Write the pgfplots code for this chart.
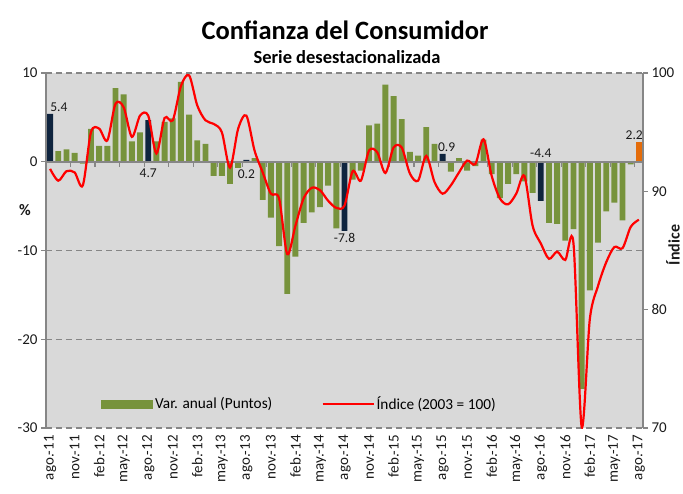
\documentclass[border=0pt]{standalone}
\usepackage{fontspec}
\setmainfont{Carlito}
\usepackage{pgfplots}
\pgfplotsset{compat=1.18}
\definecolor{bargreen}{HTML}{77933C}
\definecolor{bardark}{HTML}{0F243E}
\definecolor{barorange}{HTML}{E46C0A}
\definecolor{bggray}{HTML}{D9D9D9}
\definecolor{axgray}{HTML}{868686}
\definecolor{txt}{HTML}{1A1A1A}
\newcommand{\tf}{\fontsize{15}{17}\selectfont}
\newcommand{\lf}{\fontsize{15.3}{17}\selectfont}
\newcommand{\df}{\fontsize{13.5}{15}\selectfont}
\begin{document}
\begin{tikzpicture}
\useasboundingbox (-46pt,-65pt) rectangle (637pt,428pt);
\begin{axis}[
 at={(0pt,0pt)}, anchor=south west,
 scale only axis, width=597pt, height=355pt,
 xmin=-0.5, xmax=72.5, ymin=-30, ymax=10,
 axis background/.style={fill=bggray},
 separate axis lines,
 x axis line style={draw=none},
 y axis line style={axgray, line width=1.5pt},
 ytick={-30,-20,-10,0,10},
 ytick pos=left,
 ymajorgrids,
 grid style={axgray, line width=1.3pt, dash pattern=on 6pt off 4pt},
 tick align=outside,
 ytick style={axgray, line width=1.2pt},
 major tick length=5pt,
 xtick={0,3,...,72},
 xtick pos=bottom,
 xtick style={draw=none},
 xticklabels={ago.-11,nov.-11,feb.-12,may.-12,ago.-12,nov.-12,feb.-13,may.-13,ago.-13,nov.-13,feb.-14,may.-14,ago.-14,nov.-14,feb.-15,may.-15,ago.-15,nov.-15,feb.-16,may.-16,ago.-16,nov.-16,feb.-17,may.-17,ago.-17},
 xticklabel style={rotate=90, anchor=east, font=\tf, text=txt, inner sep=2pt},
 yticklabel style={font=\tf, text=txt},
 /pgf/number format/assume math mode=true,
 legend style={at={(0.087,0.0676)}, anchor=west, draw=none, fill=none, font=\lf,
   /tikz/every even column/.append style={column sep=47pt}},
 legend columns=2,
 legend cell align=left,
]
\addplot[ybar, bar width=0.72, bar shift=0pt, fill=bargreen, draw=none,
  legend image code/.code={\fill[bargreen] (0pt,-4.5pt) rectangle (52pt,4.5pt);}]
 coordinates {
 (1,1.2) (2,1.4) (3,1.0) (4,-0.2) (5,3.7) (6,1.8) (7,1.8) (8,8.3) (9,7.6) (10,2.3) (11,3.3)
 (13,2.3) (14,4.5) (15,4.9) (16,9.0) (17,5.3) (18,2.4) (19,2.0) (20,-1.6) (21,-1.6) (22,-2.5) (23,-0.7)
 (25,0.4) (26,-4.3) (27,-6.3) (28,-9.5) (29,-14.9) (30,-10.7) (31,-6.9) (32,-5.7) (33,-5.1) (34,-2.7) (35,-7.5)
 (37,-2.0) (38,-1.0) (39,4.1) (40,4.3) (41,8.7) (42,7.4) (43,4.8) (44,1.1) (45,0.7) (46,3.9) (47,2.0)
 (49,-1.1) (50,0.4) (51,-1.0) (52,-0.5) (53,2.5) (54,-1.4) (55,-4.1) (56,-2.5) (57,-1.4) (58,-2.2) (59,-3.5)
 (61,-6.9) (62,-7.0) (63,-8.9) (64,-7.6) (65,-25.6) (66,-14.5) (67,-9.1) (68,-5.6) (69,-4.6) (70,-6.6) (71,-0.3)
 };
\addlegendentry{Var. anual (Puntos)}
\addplot[ybar, bar width=0.72, bar shift=0pt, fill=bardark, draw=none, forget plot]
 coordinates {(0,5.4) (12,4.7) (24,0.2) (36,-7.8) (48,0.9) (60,-4.4)};
\addplot[ybar, bar width=0.72, bar shift=0pt, fill=barorange, draw=none, forget plot]
 coordinates {(72,2.2)};
\addlegendimage{legend image code/.code={\draw[red, line width=2.2pt] (0pt,0pt) -- (51pt,0pt);}}
\addlegendentry{Índice (2003 = 100)}
\draw[axgray, line width=1.5pt] (axis cs:-0.5,0) -- (axis cs:72.5,0);
\pgfplotsinvokeforeach{2.5,5.5,...,71.5}{\draw[axgray, line width=1.2pt] (axis cs:#1,0) -- ++(0pt,-5pt);}
\node[font=\df, text=txt, anchor=south west, inner xsep=0pt, inner ysep=2pt] at (axis cs:0,5.4) {5.4};
\node[font=\df, text=txt, anchor=north, inner sep=2pt] at (axis cs:12,-0.6) {4.7};
\node[font=\df, text=txt, anchor=north, inner sep=2pt] at (axis cs:24,-0.6) {0.2};
\node[font=\df, text=txt, anchor=north, inner sep=2pt] at (axis cs:36,-7.8) {-7.8};
\node[font=\df, text=txt, anchor=south, inner sep=2pt, xshift=4pt] at (axis cs:48,0.9) {0.9};
\node[font=\df, text=txt, anchor=south, inner sep=2pt] at (axis cs:60,0.2) {-4.4};
\node[font=\df, text=txt, anchor=south east, inner xsep=0pt, inner ysep=2pt] at (axis cs:72.5,2.2) {2.2};
\end{axis}
\begin{axis}[
 at={(0pt,0pt)}, anchor=south west,
 scale only axis, width=597pt, height=355pt,
 xmin=-0.5, xmax=72.5, ymin=70, ymax=100,
 axis x line=none, axis y line*=right,
 axis line style={-},
 y axis line style={axgray, line width=1.5pt},
 ytick={70,80,90,100},
 tick align=outside,
 ytick style={axgray, line width=1.2pt},
 major tick length=5pt,
 yticklabel style={font=\tf, text=txt},
 /pgf/number format/assume math mode=true,
]
\addplot[red, line width=2.2pt, smooth, tension=0.5] coordinates {
 (0,91.9) (1,90.9) (2,91.7) (3,91.6) (4,90.5) (5,95.0) (6,95.3) (7,94.3) (8,97.4) (9,97.1) (10,94.6) (11,96.4)
 (12,96.4) (13,93.2) (14,96.2) (15,96.0) (16,98.9) (17,99.8) (18,97.25) (19,96.0) (20,95.7) (21,95.0) (22,92.0) (23,95.3)
 (24,96.4) (25,93.45) (26,91.6) (27,89.8) (28,89.4) (29,84.7) (30,87.1) (31,89.4) (32,90.3) (33,90.1) (34,89.2) (35,88.6)
 (36,88.8) (37,91.7) (38,90.9) (39,93.45) (40,93.3) (41,91.55) (42,93.7) (43,93.7) (44,91.5) (45,90.9) (46,93.0) (47,90.8)
 (48,89.8) (49,90.5) (50,91.6) (51,92.6) (52,92.3) (53,94.4) (54,91.3) (55,89.4) (56,88.9) (57,89.8) (58,91.3) (59,87.1)
 (60,85.6) (61,84.3) (62,84.9) (63,84.2) (64,85.6) (65,70.1) (66,79.2) (67,82.0) (68,84.0) (69,85.3) (70,85.2) (71,87.0)
 (72,87.6)
};
\end{axis}
\node[font=\bfseries\fontsize{26.5}{30}\selectfont, text=black] at (299pt,398pt) {Confianza del Consumidor};
\node[font=\bfseries\fontsize{18.5}{21}\selectfont, text=black] at (301pt,371pt) {Serie desestacionalizada};
\node[font=\bfseries\fontsize{16}{18}\selectfont, text=txt] at (-21pt,218pt) {\%};
\node[font=\bfseries\fontsize{16}{18}\selectfont, text=txt, rotate=90] at (627pt,183pt) {Índice};
\end{tikzpicture}
\end{document}
